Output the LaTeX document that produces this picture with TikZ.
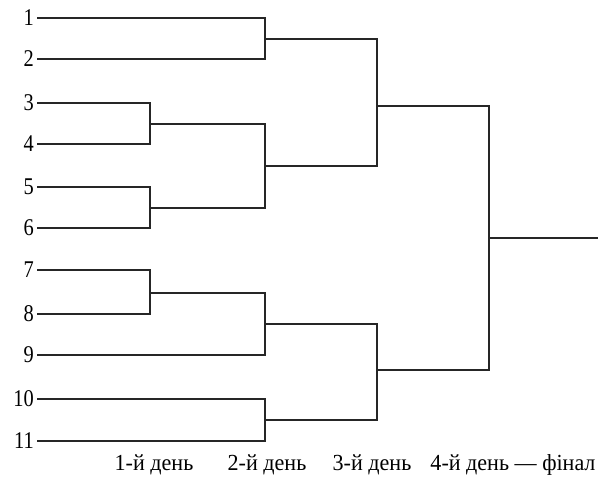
\documentclass[tikz,border=0pt]{standalone}
\usepackage{fontspec}
\setmainfont{Liberation Serif}
\newcommand{\narrow}[2]{\scalebox{#1}[1]{#2}}
\begin{document}
\begin{tikzpicture}[x=1pt,y=-1pt,
  line/.style={draw=black!85,line width=1.3pt},
  player/.style={anchor=east,inner sep=3pt,font=\fontsize{24}{24}\selectfont},
  daylab/.style={anchor=base,inner sep=0pt,font=\fontsize{23}{23}\selectfont}]
\useasboundingbox (0,0) rectangle (598,481);
\foreach \i/\y in {1/18,2/59,3/103,4/144,5/187,6/228,7/270,8/314,9/355,10/399,11/441}
  \node[player] (n\i) at (37,\y) {\narrow{0.85}{\i}};
\coordinate (m12) at (265,39);
\coordinate (m34) at (150,124);
\coordinate (m56) at (150,208);
\coordinate (m3456) at (265,166);
\coordinate (m78) at (150,293);
\coordinate (m789) at (265,324);
\coordinate (m1011) at (265,420);
\coordinate (mA) at (377,106);
\coordinate (mB) at (377,370);
\coordinate (mF) at (489,238);
\coordinate (win) at (598,238);
\draw[line] (n1.east) -| (m12); \draw[line] (n2.east) -| (m12);
\draw[line] (n3.east) -| (m34); \draw[line] (n4.east) -| (m34);
\draw[line] (n5.east) -| (m56); \draw[line] (n6.east) -| (m56);
\draw[line] (n7.east) -| (m78); \draw[line] (n8.east) -| (m78);
\draw[line] (n9.east) -| (m789); \draw[line] (m78) -| (m789);
\draw[line] (n10.east) -| (m1011); \draw[line] (n11.east) -| (m1011);
\draw[line] (m34) -| (m3456); \draw[line] (m56) -| (m3456);
\draw[line] (m12) -| (mA); \draw[line] (m3456) -| (mA);
\draw[line] (m789) -| (mB); \draw[line] (m1011) -| (mB);
\draw[line] (mA) -| (mF); \draw[line] (mB) -| (mF);
\draw[line] (mF) -- (win);
\node[daylab] (d1) at (154,471) {\narrow{0.96}{1-й день}};
\node[daylab] (d2) at (267,471) {\narrow{0.96}{2-й день}};
\node[daylab] (d3) at (372,471) {\narrow{0.96}{3-й день}};
\node[daylab] (d4) at (513,471) {\narrow{0.96}{4-й день — фінал}};
\end{tikzpicture}
\end{document}
